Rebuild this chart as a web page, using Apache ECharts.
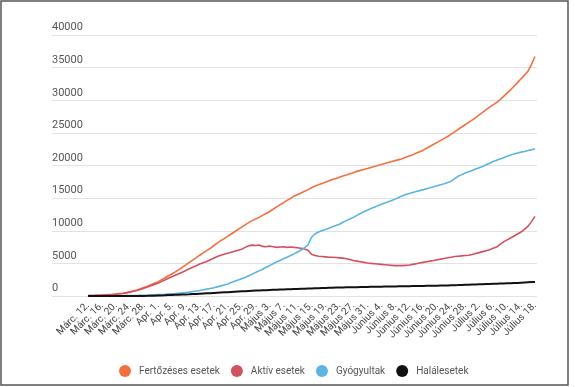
<!DOCTYPE html>
<html>
<head>
<meta charset="utf-8">
<script src="https://cdn.jsdelivr.net/npm/echarts@6/dist/echarts.min.js"></script>
<style>
html,body{margin:0;padding:0;background:#fff;}
#c{width:575px;height:387px;}
</style>
</head>
<body>
<div id="c"></div>
<script>
// month segments used to build the daily category labels (Márc. 12. – Július 18.)
var monthSegments = [['Márc.', 12, 31], ['Apr.', 1, 30], ['Május', 1, 31], ['Június', 1, 30], ['Július', 1, 18]];
var categories = [];
monthSegments.forEach(function (m) { for (var d = m[1]; d <= m[2]; d++) categories.push(m[0] + ' ' + d + '.'); });

var yTicks = [0, 5000, 10000, 15000, 20000, 25000, 30000, 35000, 40000];
var seriesNames = ['Fertőzéses esetek', 'Aktív esetek', 'Gyógyultak', 'Halálesetek'];

var fertozeses = [60,80,95,120,140,170,210,250,300,370,430,520,640,780,920,1100,1300,1500,1720,1950,
2160,2450,2760,3100,3380,3700,4030,4400,4760,5150,5500,5870,6250,6620,6950,7300,7700,8100,8480,8800,
9150,9500,9850,10200,10550,10900,11250,11550,11800,12050,12350,12650,12950,13300,13650,14000,14300,14650,14950,15300,
15550,15800,16050,16300,16600,16850,17050,17250,17450,17650,17850,18000,18200,18400,18550,18750,18900,19100,19250,19400,
19550,19700,19850,20000,20150,20300,20450,20600,20750,20900,21050,21250,21450,21650,21900,22100,22350,22650,22950,23250,
23550,23850,24150,24450,24800,25150,25550,25900,26250,26600,26950,27350,27750,28150,28550,28950,29300,29650,30100,30600,
31100,31600,32150,32700,33300,33850,34450,35500,36700];

var aktiv = [55,75,90,115,135,160,195,230,275,340,395,480,590,720,850,1010,1200,1380,1570,1780,
1950,2200,2450,2720,2950,3180,3400,3650,3900,4180,4400,4650,4900,5100,5300,5550,5800,6050,6250,6400,
6550,6700,6850,7000,7150,7450,7700,7800,7750,7800,7600,7550,7650,7550,7450,7500,7550,7450,7500,7450,
7400,7300,7200,7000,6400,6200,6100,6050,6000,5950,5950,5900,5850,5800,5700,5600,5450,5350,5250,5150,
5050,5000,4950,4900,4850,4800,4750,4700,4650,4650,4650,4700,4750,4850,4950,5050,5150,5250,5350,5450,
5550,5650,5750,5850,5950,6050,6100,6150,6200,6250,6350,6500,6650,6800,6950,7100,7300,7500,7900,8300,
8600,8900,9200,9500,9800,10200,10700,11400,12200];

var gyogyultak = [0,0,0,0,0,5,10,20,25,30,40,50,60,70,80,90,100,120,150,180,
210,230,260,300,340,380,430,480,540,600,680,760,850,950,1050,1150,1250,1400,1550,1700,
1850,2050,2250,2450,2650,2850,3100,3350,3600,3850,4100,4400,4650,4950,5200,5450,5700,5950,6200,6450,
6750,7050,7400,7800,9000,9500,9800,10000,10200,10400,10600,10800,11000,11300,11550,11800,12050,12350,12650,12900,
13150,13400,13600,13850,14050,14250,14450,14650,14850,15100,15350,15550,15700,15850,16000,16150,16300,16450,16600,16750,
16900,17050,17200,17400,17600,18000,18350,18600,18850,19050,19250,19450,19650,19850,20100,20350,20600,20800,21000,21200,
21400,21600,21750,21900,22050,22150,22300,22400,22550];

var halalesetek = [0,0,0,0,0,0,0,0,0,0,1,2,3,5,8,12,17,26,40,50,
70,90,110,140,160,180,200,220,240,260,290,320,350,380,410,440,470,500,530,560,
590,620,650,680,710,740,770,800,830,860,880,900,920,940,960,980,1000,1020,1040,1060,
1080,1100,1120,1140,1160,1180,1200,1220,1240,1260,1280,1300,1310,1320,1330,1340,1350,1360,1370,1380,
1390,1400,1410,1420,1430,1440,1450,1460,1470,1480,1490,1500,1510,1520,1530,1540,1550,1560,1570,1580,
1590,1600,1610,1625,1640,1655,1670,1690,1710,1730,1750,1770,1790,1810,1830,1850,1870,1890,1910,1930,
1950,1970,1990,2010,2040,2070,2100,2130,2160];

var colors = ['#f2703f', '#d4505f', '#5bb4e2', '#111111'];
var dataSets = [fertozeses, aktiv, gyogyultak, halalesetek];

var chart = echarts.init(document.getElementById('c'), null, {renderer: 'canvas'});
var font = 'Roboto, "Noto Sans", sans-serif';
chart.setOption({
  animation: false,
  backgroundColor: '#fff',
  color: colors,
  textStyle: {fontFamily: font},
  graphic: [{type: 'rect', shape: {x: 1, y: 1, width: 567, height: 384}, style: {fill: 'none', stroke: '#555', lineWidth: 1.5}, silent: true}],
  legend: {
    data: seriesNames, left: 114, top: 360, icon: 'circle', itemWidth: 18, itemHeight: 12, itemGap: 11,
    textStyle: {fontSize: 10, color: '#555', fontFamily: font}
  },
  grid: [
    {left: 52, right: 38, top: 35, bottom: 91},
    {left: 88, right: 40, top: 35, bottom: 91}
  ],
  xAxis: [
    {type: 'value', gridIndex: 0, show: false, min: 0, max: 1},
    {type: 'category', gridIndex: 1, data: categories, boundaryGap: false,
     axisLine: {show: false}, axisTick: {show: false},
     axisLabel: {interval: 3, rotate: 45, fontSize: 10, color: '#444', margin: 8, fontFamily: font,
       showMinLabel: true, showMaxLabel: true}}
  ],
  yAxis: [
    {type: 'value', gridIndex: 0, min: yTicks[0], max: yTicks[yTicks.length - 1], interval: 5000,
     axisLine: {show: false}, axisTick: {show: false},
     splitLine: {lineStyle: {color: '#e2e2e2', width: 1}},
     axisLabel: {inside: true, margin: 0, verticalAlign: 'bottom', lineHeight: 11, padding: [0, 0, 2, 0], fontSize: 11, color: '#555',
       formatter: function (v) { return String(v); }}},
    {type: 'value', gridIndex: 1, min: yTicks[0], max: yTicks[yTicks.length - 1], show: false, splitLine: {show: false}}
  ],
  series: dataSets.map(function (d, i) {
    return {name: seriesNames[i], type: 'line', xAxisIndex: 1, yAxisIndex: 1, data: d,
      showSymbol: false, symbol: 'none', lineStyle: {width: i === 3 ? 2 : 1.6, color: colors[i]}, z: 2 + i};
  })
});
</script>
</body>
</html>
